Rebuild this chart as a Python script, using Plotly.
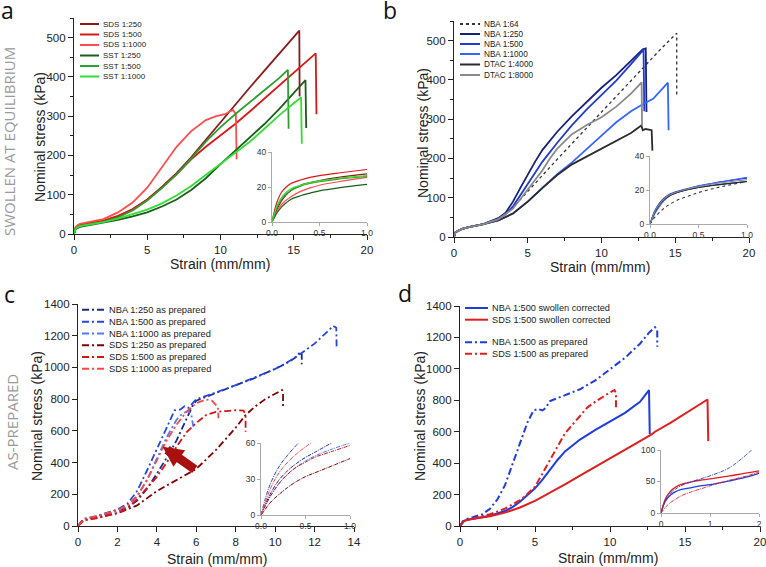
import plotly.graph_objects as go

W, H = 766, 567

# ---------------- panel a : swollen at equilibrium ----------------
a_names = ['SDS 1:250', 'SDS 1:500', 'SDS 1:1000', 'SST 1:250', 'SST 1:500', 'SST 1:1000']
a_colors = ['#8B1A1A', '#D81818', '#FF4D4D', '#1B5E1B', '#2E9E2E', '#33DD33']

a_sds250_x = [0, 0.1, 0.3, 1, 2, 3, 4, 5, 6, 7, 8, 9, 10, 11, 12, 13, 14, 15, 15.38, 15.4]
a_sds250_y = [0, 15, 22, 27, 33, 45, 63, 88, 120, 155, 195, 240, 285, 330, 373, 416, 459, 502, 518, 350]
a_sds500_x = [0, 0.1, 0.3, 1, 2, 3, 4, 5, 6, 7, 8, 9, 10, 11, 12, 13, 14, 15, 16, 16.5, 16.55]
a_sds500_y = [0, 16, 23, 28, 34, 46, 63, 87, 118, 152, 190, 222, 250, 280, 312, 345, 378, 410, 443, 460, 305]
a_sds1000_x = [0, 0.1, 0.4, 1, 2, 3, 4, 5, 6, 7, 8, 9, 9.7, 10.3, 10.85, 11.05, 11.1]
a_sds1000_y = [0, 18, 26, 30, 38, 55, 80, 118, 170, 222, 262, 290, 300, 305, 316, 305, 190]
a_sst250_x = [0, 0.1, 0.4, 1, 2, 3, 4, 5, 6, 7, 8, 9, 10, 11, 12, 13, 14, 15, 15.8, 15.85]
a_sst250_y = [0, 12, 18, 22, 28, 36, 45, 55, 70, 88, 112, 142, 178, 212, 245, 280, 318, 358, 392, 270]
a_sst500_x = [0, 0.1, 0.4, 1, 2, 3, 4, 5, 6, 7, 8, 9, 10, 11, 12, 13, 14, 14.6, 14.65]
a_sst500_y = [0, 14, 21, 25, 31, 42, 60, 85, 117, 152, 192, 235, 272, 305, 335, 365, 397, 418, 268]
a_sst1000_x = [0, 0.1, 0.4, 1, 2, 3, 4, 5, 6, 7, 8, 9, 10, 11, 12, 13, 14, 15, 15.5, 15.55]
a_sst1000_y = [0, 14, 20, 24, 30, 39, 50, 62, 78, 98, 122, 150, 178, 205, 235, 268, 302, 333, 348, 230]

# inset a (small strain)
a_in_x = [0, 0.02, 0.05, 0.1, 0.15, 0.2, 0.3, 0.4, 0.5, 0.7, 1.0]
a_in_sds250 = [0, 3, 7, 12, 15.5, 18, 21, 22.5, 23.7, 25.5, 27.5]
a_in_sds500 = [0, 5, 11, 17, 20, 22, 24, 25.5, 26.5, 28, 30]
a_in_sds1000 = [0, 3, 6, 10, 12.5, 14.5, 17.5, 19.5, 21, 23, 25.5]
a_in_sst250 = [0, 2, 5, 8.5, 11, 13, 15, 16.5, 17.8, 19.5, 21.5]
a_in_sst500 = [0, 3, 8, 13, 16, 18, 20.5, 22, 23, 24.5, 26]
a_in_sst1000 = [0, 4, 9, 14, 17, 19, 21, 22.5, 23.5, 25, 26.5]

# ---------------- panel b ----------------
b_names = ['NBA 1:64', 'NBA 1:250', 'NBA 1:500', 'NBA 1:1000', 'DTAC 1:4000', 'DTAC 1:8000']
b_colors = ['#333333', '#17217A', '#1F3BD0', '#3366FF', '#2B2B2B', '#8A8A8A']

b_nba64_x = [0, 0.1, 0.5, 1, 2, 3, 4, 5, 6, 7, 8, 9, 10, 11, 12, 13, 14, 15.1, 15.1]
b_nba64_y = [0, 12, 20, 25, 33, 47, 75, 115, 157, 198, 238, 278, 318, 358, 398, 438, 478, 519, 360]
b_nba250_x = [0, 0.1, 0.5, 1, 2, 3, 3.5, 4, 4.5, 5, 5.5, 6, 7, 8, 9, 10, 11, 12, 12.8, 13.0, 13.05]
b_nba250_y = [0, 12, 20, 25, 33, 48, 62, 90, 125, 160, 192, 222, 268, 308, 345, 380, 412, 450, 478, 480, 318]
b_nba500_x = [0, 0.1, 0.5, 1, 2, 3, 3.5, 4, 5, 6, 7, 8, 9, 10, 11, 12, 12.85, 12.9]
b_nba500_y = [0, 12, 20, 25, 33, 46, 58, 78, 135, 192, 240, 285, 325, 362, 398, 440, 477, 320]
b_nba1000_x = [0, 0.1, 0.5, 1, 2, 3, 4, 5, 6, 7, 8, 9, 10, 11, 12, 12.8, 13.5, 14.5, 14.55]
b_nba1000_y = [0, 12, 20, 25, 33, 42, 60, 90, 125, 160, 190, 225, 258, 292, 320, 338, 352, 393, 272]
b_dtac4000_x = [0, 0.1, 0.5, 1, 2, 3, 4, 5, 6, 7, 8, 9, 10, 11, 12, 12.7, 12.8, 13.0, 13.4, 13.45]
b_dtac4000_y = [0, 12, 20, 25, 33, 42, 60, 90, 125, 158, 185, 205, 225, 245, 265, 284, 272, 275, 272, 220]
b_dtac8000_x = [0, 0.1, 0.5, 1, 2, 3, 4, 5, 6, 6.5, 7, 8, 9, 10, 11, 12, 12.72, 12.75]
b_dtac8000_y = [0, 12, 20, 25, 33, 45, 72, 120, 170, 200, 225, 262, 285, 305, 332, 365, 394, 284]

b_in_x = [0, 0.02, 0.05, 0.1, 0.15, 0.2, 0.3, 0.4, 0.5, 0.7, 1.0]
b_in_nba64 = [0, 1.5, 4, 7, 9.5, 11.5, 14.5, 16.5, 18.5, 21.5, 25]
b_in_nba250 = [0, 3, 7, 12, 15, 17, 19, 20.5, 21.5, 23, 25]
b_in_nba500 = [0, 3.5, 8, 12.5, 15.5, 17.5, 19.5, 21, 22.5, 24.5, 27]
b_in_nba1000 = [0, 2.5, 6, 10.5, 14, 16.5, 19, 20.8, 22.3, 24.5, 27.5]
b_in_dtac4000 = [0, 3, 7, 11.5, 14.5, 16.5, 18.8, 20.3, 21.5, 23.2, 25]
b_in_dtac8000 = [0, 3, 7.5, 12, 15, 17, 19.3, 20.8, 22, 24, 26]

# ---------------- panel c : as prepared ----------------
c_names = ['NBA 1:250 as prepared', 'NBA 1:500 as prepared', 'NBA 1:1000 as prepared',
           'SDS 1:250 as prepared', 'SDS 1:500 as prepared', 'SDS 1:1000 as prepared']
c_colors = ['#1A2A8C', '#2347E0', '#4D7BFF', '#800000', '#D01515', '#FF4444']

c_nba250_x = [0, 0.3, 1, 2, 2.5, 3, 3.5, 4, 4.5, 5, 5.5, 5.8, 6, 6.5, 7, 8, 9, 10, 10.5, 11, 11.3, 11.35, 11.35]
c_nba250_y = [0, 40, 60, 95, 115, 160, 235, 330, 430, 540, 680, 755, 790, 815, 840, 888, 935, 990, 1020, 1060, 1100, 1080, 1020]
c_nba500_x = [0, 0.3, 1, 2, 2.5, 3, 3.5, 4, 4.5, 4.9, 5.2, 5.4, 5.6, 6, 6.5, 7, 8, 9, 10, 11, 12, 12.6, 12.95, 13.1, 13.12]
c_nba500_y = [0, 45, 65, 105, 140, 220, 350, 490, 620, 730, 735, 755, 745, 800, 820, 842, 888, 937, 990, 1060, 1150, 1220, 1262, 1250, 1120]
c_nba1000_x = [0, 0.3, 1, 2, 2.5, 3, 3.5, 4, 4.5, 5, 5.3, 5.6, 5.75, 5.85]
c_nba1000_y = [0, 42, 62, 100, 125, 185, 290, 420, 560, 670, 710, 725, 700, 626]
c_sds250_x = [0, 0.2, 0.5, 1, 2, 3, 4, 5, 6, 7, 8, 8.5, 9, 9.5, 10, 10.35, 10.4, 10.4]
c_sds250_y = [0, 30, 45, 55, 80, 130, 220, 290, 360, 480, 620, 700, 755, 800, 835, 857, 840, 740]
c_sds500_x = [0, 0.3, 1, 2, 2.5, 3, 3.5, 4, 4.5, 5, 5.5, 6, 6.5, 7, 7.5, 8, 8.4, 8.5, 8.5]
c_sds500_y = [0, 35, 50, 82, 110, 170, 240, 310, 400, 500, 590, 650, 700, 720, 725, 730, 728, 700, 595]
c_sds1000_x = [0, 0.3, 1, 2, 2.5, 3, 3.5, 4, 4.5, 5, 5.5, 6, 6.5, 6.8, 7.0, 7.1, 7.12]
c_sds1000_y = [0, 42, 62, 100, 130, 190, 290, 420, 540, 640, 720, 775, 798, 790, 765, 750, 680]

c_in_nba250_x = [0, 0.05, 0.1, 0.2, 0.3, 0.4, 0.5, 0.6, 0.79]
c_in_nba250_y = [0, 9, 17, 29, 37, 43, 48, 52, 60]
c_in_nba500_x = [0, 0.05, 0.1, 0.2, 0.3, 0.42]
c_in_nba500_y = [0, 14, 25, 40, 50, 60]
c_in_nba1000_x = [0, 0.05, 0.1, 0.2, 0.3, 0.4, 0.5, 0.6, 0.8, 1.0]
c_in_nba1000_y = [0, 8, 15, 26, 34, 40, 45, 49, 55, 60]
c_in_sds250_x = [0, 0.05, 0.1, 0.2, 0.3, 0.4, 0.5, 0.6, 0.8, 1.0]
c_in_sds250_y = [0, 5, 10, 17, 23, 28, 32, 35, 41, 47]
c_in_sds500_x = [0, 0.05, 0.1, 0.2, 0.3, 0.4, 0.5, 0.6, 0.8, 1.0]
c_in_sds500_y = [0, 8, 15, 26, 34, 40, 44, 48, 53, 58]
c_in_sds1000_x = [0, 0.05, 0.1, 0.2, 0.3, 0.4, 0.56]
c_in_sds1000_y = [0, 11, 21, 35, 44, 51, 60]

# ---------------- panel d ----------------
d_names = ['NBA 1:500 swollen corrected', 'SDS 1:500 swollen corrected',
           'NBA 1:500 as prepared', 'SDS 1:500 as prepared']
d_colors = ['#1E3CE0', '#E01E1E', '#1E3CE0', '#E01E1E']

d_nba_sw_x = [0, 0.2, 0.5, 1, 2, 3, 3.5, 4, 4.5, 5, 5.5, 6, 6.5, 7, 7.5, 8, 9, 10, 11, 12, 12.6, 12.65]
d_nba_sw_y = [0, 30, 40, 48, 65, 95, 120, 155, 195, 240, 295, 360, 420, 475, 515, 550, 610, 665, 720, 790, 865, 585]
d_sds_sw_x = [0, 0.2, 0.5, 1, 2, 3, 4, 5, 6, 7, 8, 9, 10, 11, 12, 12.8, 13, 14, 15, 16, 16.5, 16.55]
d_sds_sw_y = [0, 30, 40, 48, 62, 85, 118, 160, 210, 265, 320, 375, 430, 480, 540, 585, 600, 655, 715, 775, 805, 540]
d_nba_ap_x = [0, 0.3, 1, 1.5, 2, 2.5, 3, 3.5, 4, 4.5, 4.9, 5.2, 5.5, 5.7, 6, 6.5, 7, 8, 9, 10, 11, 12, 12.6, 13.0, 13.15, 13.15]
d_nba_ap_y = [0, 40, 60, 75, 110, 170, 260, 390, 520, 660, 735, 745, 735, 750, 795, 815, 835, 870, 925, 1000, 1070, 1160, 1230, 1265, 1250, 1140]
d_sds_ap_x = [0, 0.3, 1, 2, 3, 4, 4.5, 5, 5.5, 6, 7, 8, 8.5, 9, 9.5, 10, 10.3, 10.4, 10.4]
d_sds_ap_y = [0, 35, 50, 75, 110, 165, 205, 250, 335, 420, 590, 700, 755, 790, 822, 850, 865, 845, 745]

d_in_x = [0, 0.05, 0.1, 0.2, 0.3, 0.4, 0.6, 0.8, 1.0, 1.4, 1.8, 2.0]
d_in_nba_sw = [0, 12, 20, 29, 34, 37, 40, 43, 45, 51, 58, 63]
d_in_sds_sw = [0, 14, 24, 35, 41, 45, 49, 52, 54, 59, 64, 67]
d_in_sds_ap = [0, 5, 10, 17, 22, 27, 33, 38, 43, 52, 60, 65]
d_in_nba_ap_x = [0, 0.05, 0.1, 0.2, 0.3, 0.4, 0.6, 0.8, 1.0, 1.4, 1.85]
d_in_nba_ap_y = [0, 12, 21, 32, 38, 43, 49, 54, 59, 72, 100]

DASHDOT = '7px,3px,2px,3px'
FONT = 'Liberation Sans, Arial, sans-serif'


def px(x):
    return x / W


def py(y):
    return 1 - y / H


fig = go.Figure()


def add(x, y, color, xa, ya, width=1.8, dash='solid', shape='linear'):
    fig.add_trace(go.Scatter(x=x, y=y, mode='lines', xaxis=xa, yaxis=ya, showlegend=False,
                             line=dict(color=color, width=width, dash=dash, shape=shape),
                             hoverinfo='skip'))


# panel a
for (x, y), col in zip([(a_sds250_x, a_sds250_y), (a_sds500_x, a_sds500_y), (a_sds1000_x, a_sds1000_y),
                        (a_sst250_x, a_sst250_y), (a_sst500_x, a_sst500_y), (a_sst1000_x, a_sst1000_y)],
                       a_colors):
    add(x, y, col, 'x', 'y')
for y, col in zip([a_in_sds250, a_in_sds500, a_in_sds1000, a_in_sst250, a_in_sst500, a_in_sst1000], a_colors):
    add(a_in_x, y, col, 'x5', 'y5', width=1.2, shape='spline')

# panel b
b_dash = ['dot', 'solid', 'solid', 'solid', 'solid', 'solid']
b_width = [1.3, 1.8, 1.8, 1.8, 1.8, 1.8]
for (x, y), col, ds, lw in zip([(b_nba64_x, b_nba64_y), (b_nba250_x, b_nba250_y), (b_nba500_x, b_nba500_y),
                                (b_nba1000_x, b_nba1000_y), (b_dtac4000_x, b_dtac4000_y),
                                (b_dtac8000_x, b_dtac8000_y)], b_colors, b_dash, b_width):
    add(x, y, col, 'x2', 'y2', width=lw, dash=ds)
for y, col, ds in zip([b_in_nba64, b_in_nba250, b_in_nba500, b_in_nba1000, b_in_dtac4000, b_in_dtac8000],
                      b_colors, b_dash):
    add(b_in_x, y, col, 'x6', 'y6', width=1.1, dash=ds, shape='spline')

# panel c
for (x, y), col in zip([(c_nba250_x, c_nba250_y), (c_nba500_x, c_nba500_y), (c_nba1000_x, c_nba1000_y),
                        (c_sds250_x, c_sds250_y), (c_sds500_x, c_sds500_y), (c_sds1000_x, c_sds1000_y)],
                       c_colors):
    add(x, y, col, 'x3', 'y3', dash=DASHDOT)
for (x, y), col in zip([(c_in_nba250_x, c_in_nba250_y), (c_in_nba500_x, c_in_nba500_y),
                        (c_in_nba1000_x, c_in_nba1000_y), (c_in_sds250_x, c_in_sds250_y),
                        (c_in_sds500_x, c_in_sds500_y), (c_in_sds1000_x, c_in_sds1000_y)], c_colors):
    add(x, y, col, 'x7', 'y7', width=1.0, dash='4px,1px,1px,1px', shape='spline')

# panel d
d_dash = ['solid', 'solid', DASHDOT, DASHDOT]
for (x, y), col, ds in zip([(d_nba_sw_x, d_nba_sw_y), (d_sds_sw_x, d_sds_sw_y),
                            (d_nba_ap_x, d_nba_ap_y), (d_sds_ap_x, d_sds_ap_y)], d_colors, d_dash):
    add(x, y, col, 'x4', 'y4', width=2, dash=ds)
add(d_in_x, d_in_nba_sw, d_colors[0], 'x8', 'y8', width=1.3, shape='spline')
add(d_in_x, d_in_sds_sw, d_colors[1], 'x8', 'y8', width=1.3, shape='spline')
add(d_in_nba_ap_x, d_in_nba_ap_y, d_colors[2], 'x8', 'y8', width=0.9, dash='4px,1px,1px,1px', shape='spline')
add(d_in_x, d_in_sds_ap, d_colors[3], 'x8', 'y8', width=0.9, dash='4px,1px,1px,1px', shape='spline')

# ---------------- axes ----------------
main_ax = dict(showline=True, linecolor='#222', linewidth=1.2, ticks='outside', ticklen=5, tickwidth=1.2,
               tickcolor='#222', showgrid=False, zeroline=False, automargin=False,
               ticklabeloverflow='allow', tickfont=dict(size=11.5, color='#222'))
inset_ax = dict(showline=True, linecolor='#aaa', linewidth=1, ticks='outside', ticklen=3, tickwidth=1,
                tickcolor='#aaa', showgrid=False, zeroline=False, automargin=False,
                ticklabeloverflow='allow', tickfont=dict(size=8.5, color='#333'))
minor_x = dict(ticks='outside', ticklen=3, dtick=2.5, tickcolor='#222', tickwidth=1.2)
minor_y = dict(ticks='outside', ticklen=3, dtick=50, tickcolor='#222', tickwidth=1.2)

fig.update_layout(
    xaxis=dict(main_ax, domain=[px(74), px(367)], range=[0, 20], dtick=5, minor=minor_x, anchor='y'),
    yaxis=dict(main_ax, domain=[py(234), py(18)], range=[0, 550], dtick=100, minor=minor_y, anchor='x'),
    xaxis2=dict(main_ax, domain=[px(454), px(749)], range=[0, 20], dtick=5, minor=minor_x, anchor='y2'),
    yaxis2=dict(main_ax, domain=[py(237), py(21)], range=[0, 550], dtick=100, minor=minor_y, anchor='x2'),
    xaxis3=dict(main_ax, domain=[px(78), px(354)], range=[0, 14], dtick=2, anchor='y3'),
    yaxis3=dict(main_ax, domain=[py(526), py(304)], range=[0, 1400], dtick=200, anchor='x3'),
    xaxis4=dict(main_ax, domain=[px(460), px(760)], range=[0, 20], dtick=5, minor=minor_x, anchor='y4'),
    yaxis4=dict(main_ax, domain=[py(526), py(306)], range=[0, 1400], dtick=200, anchor='x4'),
    xaxis5=dict(inset_ax, domain=[px(272), px(367)], range=[0, 1], dtick=0.5, tickformat='.1f', anchor='y5'),
    yaxis5=dict(inset_ax, domain=[py(222), py(152)], range=[0, 40], dtick=20, anchor='x5'),
    xaxis6=dict(inset_ax, domain=[px(650), px(747)], range=[0, 1], dtick=0.5, tickformat='.1f', anchor='y6'),
    yaxis6=dict(inset_ax, domain=[py(224), py(156)], range=[0, 40], dtick=20, anchor='x6'),
    xaxis7=dict(inset_ax, domain=[px(261), px(350)], range=[0, 1], dtick=0.5, tickformat='.1f', anchor='y7'),
    yaxis7=dict(inset_ax, domain=[py(515), py(443)], range=[0, 60], dtick=30, anchor='x7'),
    xaxis8=dict(inset_ax, domain=[px(661), px(759)], range=[0, 2], dtick=1, anchor='y8'),
    yaxis8=dict(inset_ax, domain=[py(513), py(450)], range=[0, 100], dtick=50, anchor='x8'),
)

# ---------------- text, legends ----------------
ann = []
shapes = []


def text(x, y, s, size, color='#222', angle=0, family=FONT, xanchor='center', height=None):
    ann.append(dict(x=px(x), y=py(y), xref='paper', yref='paper', text=s, showarrow=False,
                    textangle=angle, xanchor=xanchor, yanchor='middle', height=height,
                    font=dict(family=family, size=size, color=color)))


for cx, cy in [(220, 264), (600, 267), (217, 559), (608, 558)]:
    text(cx, cy, 'Strain (mm/mm)', 14)
for cx, cy in [(40, 137), (423, 133), (37, 416), (420, 416)]:
    text(cx, cy, 'Nominal stress (kPa)', 14, angle=-90)

for s, cx, cy in [('a', 7, 10), ('b', 390, 10), ('c', 9, 294), ('d', 405, 293)]:
    text(cx, cy, s, 23, color='#111', family='Open Sans, sans-serif', height=20)

text(9, 142, 'SWOLLEN AT EQUILIBRIUM', 15, color='#9a9a9a', angle=-90, family='Open Sans, sans-serif')
text(12, 422, 'AS-PREPARED', 15, color='#9a9a9a', angle=-90, family='Open Sans, sans-serif')


def legend(names, colors, dashes, widths, x0, x1, rows, size):
    for name, col, ds, lw, ry in zip(names, colors, dashes, widths, rows):
        shapes.append(dict(type='line', xref='paper', yref='paper', x0=px(x0), x1=px(x1),
                           y0=py(ry), y1=py(ry), line=dict(color=col, width=lw, dash=ds)))
        text(x1 + 2, ry, name, size, xanchor='left')


legend(a_names, a_colors, ['solid'] * 6, [2] * 6, 80, 99, [24, 34.5, 45, 55.5, 66, 76.5], 8)
legend(b_names, b_colors, b_dash, [2.2, 2, 2, 2, 2, 2], 460, 480, [24, 34, 44, 54, 64.5, 75], 8.2)
legend(c_names, c_colors, [DASHDOT] * 6, [2] * 6, 82, 105, [309.7, 321.7, 333.5, 345.2, 357, 368.7], 9.3)
legend(d_names, d_colors, d_dash, [2] * 4, 465, 488, [308, 319.7, 342.3, 353.7], 9.2)

# arrow in panel c
ann.append(dict(x=4.3, y=500, ax=6.0, ay=350, xref='x3', yref='y3', axref='x3', ayref='y3',
                text='', showarrow=True, arrowhead=2, arrowwidth=9, arrowsize=0.45,
                arrowcolor='#A81010', standoff=0))

fig.update_layout(
    width=W, height=H, margin=dict(l=0, r=0, t=0, b=0),
    paper_bgcolor='white', plot_bgcolor='rgba(0,0,0,0)',
    font=dict(family=FONT, color='#222'),
    annotations=ann, shapes=shapes, showlegend=False,
)

fig.write_html("out.html", config={'displayModeBar': False},
               post_script="document.body.style.margin='0px';")
